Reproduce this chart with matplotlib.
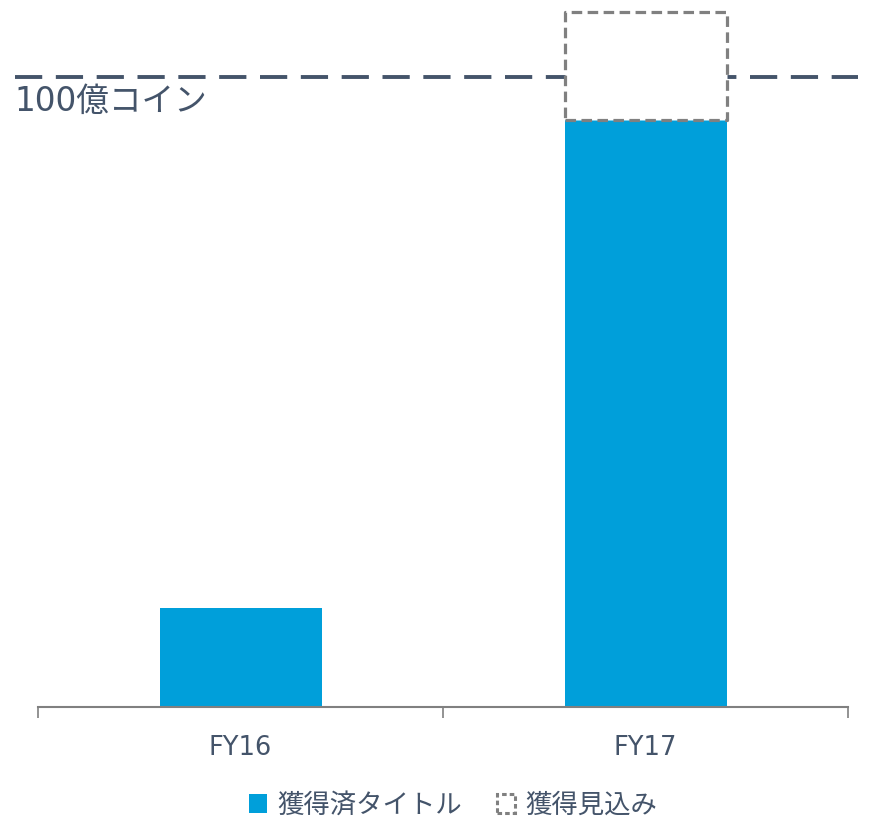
import matplotlib
matplotlib.use("Agg")
import matplotlib.pyplot as plt
import matplotlib.transforms as mtransforms
from matplotlib.patches import Patch

plt.rcParams['font.family'] = ['DejaVu Sans', 'Noto Sans CJK JP']

# 億コイン
years = ['FY16', 'FY17']
acquired = [15.7, 93.2]      # 獲得済タイトル
expected = [0, 17.1]         # 獲得見込み (上積み分)
target = 100
target_label = '100億コイン'
legend_labels = ['獲得済タイトル', '獲得見込み']

blue = '#009FDA'
slate = '#44546A'
gray = '#808080'

fig = plt.figure(figsize=(8.72, 8.21), dpi=100)
W, H = 872, 821
ax = fig.add_axes([38 / W, (H - 707) / H, 810 / W, 707 / H])

x = list(range(len(years)))
ax.bar(x, acquired, width=0.4, color=blue, zorder=2)
# 見込み分は値のある年だけ点線の枠で描く
for xi, base, extra in zip(x, acquired, expected):
    if extra > 0:
        ax.bar(xi, extra, bottom=base, width=0.4, facecolor='white',
               edgecolor=gray, linestyle=(0, (3.3, 1.7)), linewidth=2.3,
               joinstyle='round', zorder=3)

# 目標ライン (軸の外まで伸ばす)
trans = mtransforms.blended_transform_factory(fig.transFigure, ax.transData)
ax.plot([15 / W, 858 / W], [target, target], transform=trans, color=slate,
        linewidth=2.8, linestyle=(0, (7, 3.5)), clip_on=False, zorder=1)
ax.text(14 / W, target - 1.3, target_label, transform=trans, color=slate,
        fontsize=23.5, ha='left', va='top',
        family=['DejaVu Sans', 'Noto Sans CJK JP'])

ax.set_xlim(-0.5, 1.5)
ax.set_ylim(0, 707 / 6.3)
ax.set_xticks(x)
ax.set_xticklabels(years, color=slate, fontsize=18.5)
ax.tick_params(axis='x', which='major', length=0, pad=20)
ax.set_xticks([-0.5, 0.5, 1.5], minor=True)
ax.tick_params(axis='x', which='minor', length=8, width=1.2, color=gray)
ax.set_yticks([])
for side in ['top', 'left', 'right']:
    ax.spines[side].set_visible(False)
ax.spines['bottom'].set_color(gray)
ax.spines['bottom'].set_linewidth(1.5)

handles = [Patch(facecolor=blue, edgecolor='none'),
           Patch(facecolor='white', edgecolor=gray, linestyle=(0, (1.5, 1)),
                 linewidth=2.2)]
leg = fig.legend(handles, legend_labels, loc='center',
                 bbox_to_anchor=(453 / W, 1 - 805 / H), ncol=2, frameon=False,
                 fontsize=19, handlelength=0.7, handleheight=0.7,
                 handletextpad=0.4, columnspacing=1.3)
for t in leg.get_texts():
    t.set_color(slate)
    t.set_family(['Noto Sans CJK JP', 'DejaVu Sans'])

fig.savefig('out.png', dpi=100, facecolor='white')
